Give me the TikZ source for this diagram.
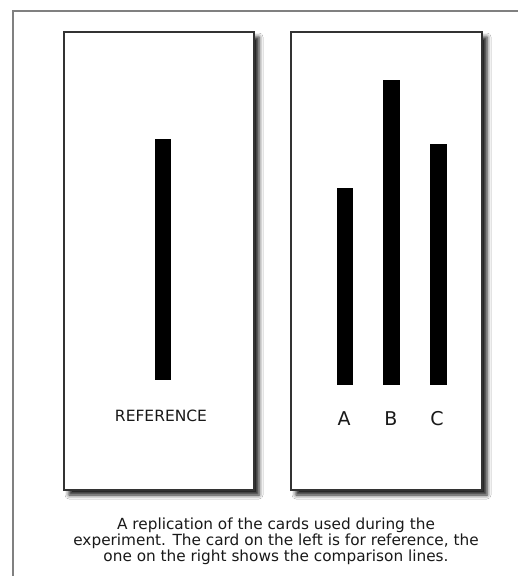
\documentclass[tikz,border=0pt]{standalone}
\usepackage{fontspec}
\setmainfont{DejaVu Sans}
\usetikzlibrary{shadows.blur}
\begin{document}
\begin{tikzpicture}[x=1pt,y=-1pt,
  card/.style={draw=black!80, line width=1.3pt, fill=white,
    blur shadow={shadow xshift=5pt, shadow yshift=-5pt, shadow blur radius=4pt, shadow opacity=90}},
  bar/.style={fill=black, draw=none},
  lbl/.style={font=\fontsize{19}{21}\selectfont, text=black!90},
  reflbl/.style={font=\fontsize{15.5}{17}\selectfont, text=black!90},
  caption/.style={font=\fontsize{15.3}{16}\selectfont, text=black!90, align=center, inner sep=0pt}]
\useasboundingbox (0,0) rectangle (518,576);
\fill[white] (0,0) rectangle (518,576);
% outer frame
\draw[black!50, line width=1.6pt] (13,580) -- (13,11) -- (525,11);
% cards
\draw[card] (64,32) rectangle (254,490);
\draw[card] (291,32) rectangle (482,490);
% bars
\fill[bar] (155,139) rectangle (171,380);
\fill[bar] (337,188) rectangle (353,385);
\fill[bar] (383,80) rectangle (400,385);
\fill[bar] (430,144) rectangle (447,385);
% labels
\node[reflbl] (ref) at (161,416) {REFERENCE};
\node[lbl] (a) at (344,419) {A};
\node[lbl] (b) at (391,419) {B};
\node[lbl] (c) at (437,419) {C};
\node[caption] (cap) at (276,541) {A replication of the cards used during the\\experiment. The card on the left is for reference, the\\one on the right shows the comparison lines.};
\end{tikzpicture}
\end{document}
